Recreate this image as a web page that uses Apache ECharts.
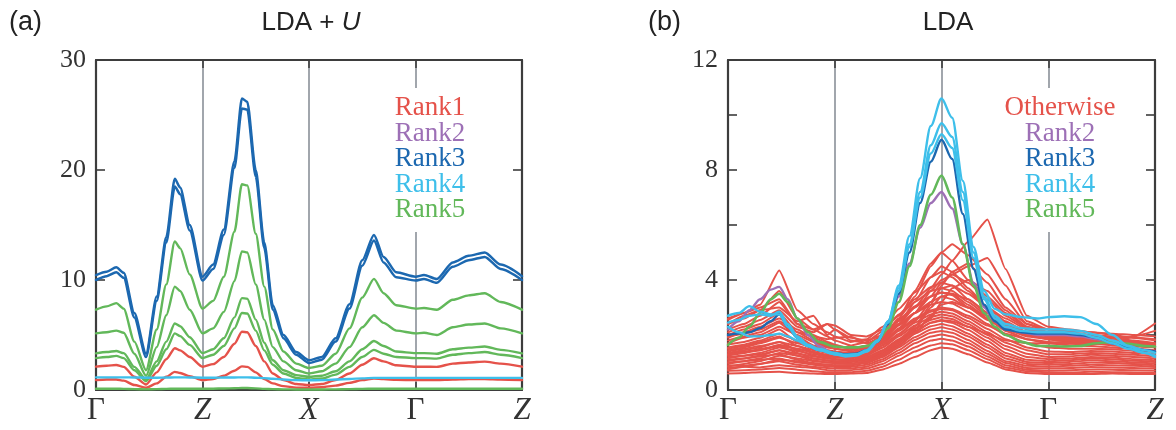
<!DOCTYPE html>
<html><head><meta charset="utf-8">
<script src="https://cdn.jsdelivr.net/npm/echarts@6/dist/echarts.min.js"></script>
<style>html,body{margin:0;padding:0;background:#fff}#c{width:1176px;height:430px}</style>
</head><body><div id="c"></div><script>
// k-path labels (Γ–Z–X–Γ–Z), one unit per segment
const kLabels = ['Γ', 'Z', 'X', 'Γ', 'Z'];
const kItalic = ['Z', 'X'];

// ---- panel (a): LDA + U ----
const xA = [0, 0.1, 0.19, 0.26, 0.36, 0.47, 0.57, 0.66, 0.74, 0.79, 0.88, 1.0, 1.1, 1.2, 1.3, 1.37, 1.42, 1.5, 1.58, 1.66, 1.76, 1.88, 2.0, 2.12, 2.25, 2.38, 2.5, 2.61, 2.7, 2.82, 3.0, 3.08, 3.2, 3.35, 3.5, 3.65, 3.8, 4.0];
const aRank3Upper = [10.45,10.75,11.15,10.65,7.0,3.3,8.5,13.9,19.2,18.4,15.0,10.3,11.4,14.6,20.8,26.5,26.2,20.0,13.4,7.7,5.0,3.45,2.7,3.0,4.7,7.8,11.8,14.1,12.1,10.7,10.3,10.45,10.1,11.6,12.2,12.5,11.4,10.35];
const aRank3Lower = [10.0,10.35,10.7,10.2,6.6,3.0,8.1,13.4,18.5,17.8,14.5,9.95,11.0,14.1,20.2,25.6,25.5,19.4,12.9,7.3,4.7,3.2,2.45,2.75,4.4,7.4,11.3,13.6,11.6,10.25,9.95,10.1,9.75,11.2,11.8,12.1,11.0,10.0];
const aRank5A = [7.3,7.6,7.9,7.4,4.4,1.8,5.5,9.6,13.5,12.9,10.5,7.4,8.1,10.3,14.4,18.7,18.6,14.2,9.4,5.5,3.5,2.4,2.0,2.2,3.3,5.6,8.4,10.1,8.8,7.7,7.4,7.45,7.3,8.2,8.6,8.8,8.0,7.3];
const aRank5B = [5.15,5.25,5.4,5.2,3.3,1.3,3.9,6.8,9.4,9.0,7.3,5.15,5.6,7.1,9.9,12.6,12.5,9.6,6.4,3.9,2.6,1.8,1.5,1.7,2.4,3.9,5.7,6.8,6.1,5.4,5.15,5.2,5.0,5.7,5.95,6.05,5.6,5.15];
const aRank5C = [3.33,3.45,3.55,3.35,2.1,0.95,2.6,4.4,6.05,5.8,4.8,3.35,3.7,4.7,6.6,8.35,8.3,6.4,4.3,2.7,1.8,1.35,1.2,1.3,1.7,2.6,3.7,4.45,4.0,3.5,3.35,3.35,3.3,3.7,3.85,3.95,3.65,3.33];
const aRank5D = [2.9,3.0,3.1,2.9,1.8,0.8,2.2,3.7,5.15,4.9,4.1,2.9,3.2,4.0,5.6,7.0,6.95,5.4,3.6,2.3,1.5,1.1,0.95,1.05,1.4,2.1,3.0,3.65,3.3,3.0,2.9,2.9,2.85,3.2,3.35,3.45,3.2,2.9];
const aRank5E = [0.12,0.12,0.12,0.1,0.08,0.06,0.08,0.1,0.12,0.12,0.12,0.12,0.12,0.14,0.16,0.18,0.18,0.15,0.1,0.08,0.06,0.05,0.05,0.05,0.06,0.08,0.1,0.12,0.12,0.12,0.12,0.12,0.12,0.12,0.12,0.12,0.12,0.12];
const aRank1A = [2.12,2.2,2.27,2.1,1.2,0.5,1.6,2.8,3.8,3.6,3.0,2.12,2.35,3.0,4.2,5.3,5.25,4.0,2.6,1.5,0.9,0.55,0.45,0.55,0.9,1.5,2.3,2.88,2.6,2.25,2.12,2.12,2.1,2.4,2.5,2.58,2.4,2.12];
const aRank1B = [0.9,0.95,0.95,0.85,0.45,0.2,0.6,1.2,1.65,1.55,1.25,0.9,1.0,1.3,1.75,2.15,2.1,1.6,1.0,0.6,0.35,0.22,0.2,0.25,0.4,0.65,0.9,1.05,1.0,0.92,0.9,0.9,0.9,0.95,1.0,1.0,0.95,0.9];
const aRank4 = [1.15,1.15,1.15,1.15,1.14,1.12,1.12,1.13,1.15,1.15,1.14,1.12,1.12,1.13,1.14,1.15,1.15,1.12,1.08,1.02,0.95,0.9,0.88,0.9,0.95,1.0,1.06,1.1,1.1,1.1,1.1,1.1,1.1,1.1,1.1,1.1,1.1,1.1];
const yTicksA = [0, 30, 10];   // min, max, step

// ---- panel (b): LDA ----
const xB = [0, 0.1, 0.2, 0.3, 0.4, 0.48, 0.56, 0.65, 0.75, 0.85, 1.0, 1.1, 1.2, 1.3, 1.4, 1.5, 1.6, 1.7, 1.8, 1.9, 2.0, 2.1, 2.2, 2.3, 2.4, 2.5, 2.6, 2.75, 2.9, 3.0, 3.15, 3.3, 3.45, 3.6, 3.75, 3.9, 4.0];
const bRank5 = [1.64,1.9,2.3,2.8,3.3,3.5,3.2,2.6,2.1,1.75,1.58,1.55,1.55,1.6,1.8,2.25,3.2,4.5,6.0,7.1,7.8,7.0,5.3,3.8,2.8,2.3,2.0,1.75,1.6,1.6,1.58,1.6,1.7,1.75,1.68,1.6,1.58];
const bRank2 = [2.2,2.5,2.9,3.3,3.65,3.75,3.3,2.6,2.0,1.6,1.3,1.25,1.3,1.45,1.8,2.4,3.4,4.6,5.9,6.8,7.2,6.6,5.3,3.9,3.0,2.5,2.25,2.1,2.0,2.0,2.0,1.95,1.85,1.7,1.55,1.45,1.4];
const bRank3 = [2.0,2.05,2.1,2.25,2.5,2.75,2.3,1.9,1.6,1.45,1.35,1.3,1.32,1.45,1.75,2.4,3.5,5.0,6.8,8.3,9.1,8.4,6.4,4.4,3.1,2.5,2.2,2.1,2.05,2.05,2.05,2.0,1.9,1.7,1.55,1.45,1.4];
const bRank4A = [2.7,2.8,3.05,2.85,2.75,2.75,2.3,1.9,1.6,1.45,1.3,1.22,1.25,1.4,1.75,2.5,3.8,5.6,7.7,9.6,10.6,9.9,7.6,5.2,3.6,2.95,2.75,2.65,2.6,2.65,2.68,2.65,2.4,2.0,1.6,1.35,1.25];
const bRank4B = [2.45,2.55,2.7,2.75,2.7,2.85,2.4,1.95,1.65,1.5,1.35,1.28,1.3,1.45,1.8,2.5,3.7,5.3,7.2,8.9,9.7,9.2,7.2,5.0,3.4,2.7,2.4,2.25,2.2,2.2,2.2,2.15,2.0,1.8,1.6,1.45,1.35];
const bRank4C = [2.3,2.1,1.95,1.95,2.0,2.05,1.95,1.8,1.6,1.45,1.3,1.25,1.28,1.42,1.78,2.45,3.6,5.2,7.0,8.6,9.3,8.8,6.9,4.8,3.3,2.6,2.3,2.15,2.1,2.1,2.1,2.05,1.9,1.7,1.5,1.35,1.2];
const xOther = [0, 0.15, 0.3, 0.48, 0.65, 0.8, 0.93, 1.0, 1.15, 1.3, 1.45, 1.6, 1.75, 1.9, 2.0, 2.1, 2.25, 2.43, 2.6, 2.8, 3.0, 3.2, 3.4, 3.6, 3.8, 4.0];
const otherBands = [
  [0.60,0.62,0.65,0.66,0.62,0.60,0.58,0.58,0.60,0.62,0.75,0.95,1.2,1.45,1.55,1.5,1.3,1.0,0.75,0.62,0.58,0.58,0.58,0.60,0.58,0.58],
  [0.70,0.72,0.75,0.80,0.74,0.68,0.65,0.64,0.65,0.70,0.85,1.10,1.40,1.62,1.70,1.66,1.45,1.12,0.82,0.68,0.64,0.64,0.66,0.65,0.64,0.62],
  [0.80,0.85,0.82,0.90,0.85,0.80,0.72,0.70,0.72,0.78,0.95,1.25,1.55,1.80,1.86,1.80,1.58,1.22,0.90,0.74,0.70,0.72,0.75,0.74,0.72,0.70],
  [0.90,0.88,0.95,1.05,0.92,0.85,0.80,0.78,0.78,0.85,1.05,1.35,1.70,1.95,2.02,1.95,1.70,1.32,0.98,0.80,0.78,0.80,0.84,0.82,0.80,0.78],
  [1.00,1.05,1.10,1.15,1.00,0.92,0.86,0.84,0.84,0.92,1.12,1.45,1.82,2.08,2.15,2.08,1.82,1.42,1.05,0.88,0.85,0.88,0.92,0.90,0.88,0.84],
  [1.10,1.15,1.22,1.30,1.10,0.98,0.92,0.90,0.90,0.98,1.20,1.55,1.92,2.20,2.28,2.20,1.95,1.55,1.15,0.95,0.92,0.95,1.00,0.98,0.95,0.90],
  [1.20,1.25,1.30,1.45,1.25,1.08,1.00,0.98,0.96,1.05,1.28,1.65,2.05,2.32,2.40,2.32,2.05,1.65,1.25,1.02,0.98,1.02,1.08,1.05,1.00,0.96],
  [1.30,1.40,1.45,1.60,1.35,1.15,1.06,1.04,1.02,1.10,1.35,1.75,2.15,2.45,2.52,2.45,2.18,1.78,1.35,1.10,1.05,1.08,1.15,1.12,1.06,1.02],
  [1.40,1.50,1.60,1.75,1.45,1.25,1.15,1.12,1.08,1.18,1.45,1.85,2.25,2.55,2.65,2.58,2.30,1.90,1.48,1.20,1.12,1.15,1.20,1.18,1.12,1.08],
  [1.50,1.60,1.75,1.95,1.60,1.38,1.25,1.20,1.15,1.25,1.55,1.95,2.35,2.65,2.75,2.68,2.40,2.00,1.60,1.32,1.20,1.22,1.28,1.25,1.20,1.15],
  [1.65,1.75,1.90,2.20,1.75,1.50,1.35,1.28,1.22,1.32,1.62,2.05,2.45,2.75,2.85,2.78,2.50,2.10,1.72,1.45,1.30,1.30,1.35,1.32,1.28,1.22],
  [1.80,1.95,2.10,2.45,1.95,1.62,1.45,1.38,1.30,1.40,1.70,2.15,2.55,2.85,2.95,2.90,2.62,2.22,1.85,1.55,1.40,1.38,1.42,1.40,1.35,1.30],
  [2.00,2.20,2.40,2.80,2.10,1.80,1.60,1.50,1.40,1.50,1.85,2.35,2.80,3.10,3.20,3.15,2.85,2.40,2.00,1.70,1.55,1.50,1.50,1.48,1.42,1.38],
  [2.20,2.40,2.70,3.20,2.40,2.00,1.75,1.65,1.50,1.62,2.00,2.55,3.05,3.40,3.55,3.50,3.10,2.60,2.15,1.85,1.70,1.62,1.60,1.55,1.50,1.45],
  [2.40,2.60,2.90,3.60,2.60,2.20,1.95,1.80,1.62,1.75,2.15,2.75,3.30,3.75,3.90,3.80,3.30,2.80,2.30,2.00,1.85,1.75,1.70,1.62,1.58,1.55],
  [2.55,2.80,3.10,4.35,2.90,2.40,2.10,1.95,1.75,1.85,2.30,2.95,3.55,4.10,4.30,4.10,3.60,3.00,2.45,2.10,1.95,1.85,1.80,1.72,1.65,1.60],
  [1.90,2.10,2.30,2.60,2.20,1.90,1.70,1.60,1.50,1.60,1.90,2.40,3.00,3.70,4.20,4.70,5.40,6.20,4.40,2.70,2.30,2.20,2.10,2.00,1.90,1.80],
  [1.70,1.90,2.00,2.30,2.00,1.75,1.55,1.50,1.45,1.55,1.95,2.60,3.40,4.50,5.00,5.30,4.90,4.20,3.30,2.40,2.10,2.00,1.95,1.85,1.75,1.70],
  [1.55,1.65,1.80,2.05,1.80,1.60,1.45,1.40,1.35,1.45,1.75,2.25,2.80,3.40,3.90,4.20,4.50,4.80,3.80,2.50,2.20,2.10,2.00,1.90,1.80,1.70],
  [1.45,1.55,1.70,1.90,1.70,1.55,1.40,1.35,1.30,1.45,1.90,2.60,3.60,4.60,5.00,4.70,4.00,3.40,2.80,2.30,2.05,1.95,1.90,1.85,1.75,1.65],
  [1.35,1.45,1.55,1.75,1.60,1.45,1.35,1.30,1.28,1.40,1.80,2.40,3.20,4.10,4.50,4.30,3.70,3.00,2.60,2.20,2.00,1.90,1.85,1.80,1.70,1.60],
  [1.25,1.35,1.45,1.65,1.50,1.38,1.28,1.25,1.22,1.32,1.65,2.20,2.80,3.60,4.00,4.20,3.90,3.30,2.70,2.25,2.05,1.98,1.90,1.85,1.75,1.65],
  [1.15,1.25,1.35,1.55,1.42,1.30,1.22,1.20,1.18,1.28,1.55,2.00,2.50,3.20,3.70,3.80,3.50,3.00,2.50,2.10,1.98,1.92,1.88,1.82,1.72,1.62],
  [1.05,1.15,1.25,1.45,1.32,1.22,1.15,1.12,1.10,1.20,1.45,1.80,2.20,2.60,3.20,3.70,4.00,3.60,2.90,2.30,2.10,2.05,2.00,1.95,1.90,1.85],
  [0.95,1.05,1.15,1.35,1.25,1.15,1.08,1.05,1.02,1.12,1.40,1.80,2.30,3.10,3.80,4.30,4.60,3.90,3.00,2.40,2.20,2.15,2.10,2.05,2.00,1.95],
  [0.85,0.95,1.05,1.25,1.15,1.05,1.00,0.98,0.96,1.05,1.30,1.70,2.20,3.00,3.40,3.50,3.30,2.80,2.40,2.10,1.95,1.85,1.80,1.78,1.70,1.62],
  [0.75,0.85,0.95,1.10,1.05,0.95,0.92,0.90,0.90,1.00,1.25,1.60,2.05,2.70,3.10,3.20,3.00,2.70,2.35,2.05,1.85,1.75,1.70,1.72,1.95,2.42],
  [1.30,1.35,1.50,1.60,1.50,1.35,1.20,1.12,1.05,1.15,1.40,1.75,2.10,2.45,2.55,2.50,2.30,2.05,1.80,1.70,1.70,1.68,1.65,1.75,1.95,2.15],
  [2.40,2.70,2.90,3.00,2.50,2.70,2.00,2.20,1.90,1.80,2.00,2.40,2.80,3.20,3.40,3.30,3.00,2.60,2.30,2.10,2.00,1.95,1.90,1.80,1.70,1.60],
  [2.60,2.80,3.00,3.30,2.40,2.20,2.40,2.35,2.00,1.95,2.20,2.70,3.20,3.60,3.70,3.60,3.20,2.70,2.30,2.00,1.90,1.85,1.80,1.75,1.70,1.60],
  [2.10,2.30,2.55,2.90,2.30,2.10,2.40,2.20,1.80,1.70,1.95,2.50,3.00,3.40,3.55,3.45,3.00,2.55,2.20,1.95,1.85,1.80,1.75,1.70,1.65,1.55],
  [1.95,2.05,2.20,2.50,2.10,1.95,1.85,1.90,1.94,1.70,1.80,2.20,2.60,2.90,3.00,2.95,2.70,2.35,2.05,1.85,1.75,1.72,1.70,1.68,1.62,1.55]
];
const yTicksB = [0, 12, 2];

const legendA = ['Rank1', 'Rank2', 'Rank3', 'Rank4', 'Rank5'];
const legendB = ['Otherwise', 'Rank2', 'Rank3', 'Rank4', 'Rank5'];

const C = { red: '#e5524a', purple: '#9d70b6', blue: '#1c68b0', cyan: '#3ebfea', green: '#62b85a' };
const legendColors = [C.red, C.purple, C.blue, C.cyan, C.green];
const SERIF = 'Liberation Serif';
const SANS = 'Liberation Sans';
const FRAME = '#3d3d3d';

function line(xs, ys, color, width, panel, z, smooth) {
  return {
    type: 'line', xAxisIndex: panel * 2, yAxisIndex: panel * 2,
    data: xs.map((x, i) => [x, ys[i]]),
    symbol: 'none', showSymbol: false, silent: true, animation: false, z: z,
    smooth: smooth, smoothMonotone: 'x',
    lineStyle: { color: color, width: width, join: 'round', cap: 'round' }
  };
}

function xAxes(grid) {
  const bottom = {
    type: 'value', gridIndex: grid, min: 0, max: 4, interval: 1, position: 'bottom',
    axisLine: { show: true, onZero: false, lineStyle: { color: FRAME, width: 2.2 } },
    axisTick: { show: true, inside: true, length: 8, lineStyle: { color: FRAME, width: 1.6 } },
    splitLine: { show: true, lineStyle: { color: '#8a9098', width: 1.6 } },
    axisLabel: {
      margin: 5,
      formatter: v => { const s = kLabels[Math.round(v)]; return kItalic.includes(s) ? '{i|' + s + '}' : '{u|' + s + '}'; },
      rich: {
        u: { fontFamily: SERIF, fontSize: 31, color: '#333' },
        i: { fontFamily: SERIF, fontSize: 31, fontStyle: 'italic', color: '#333' }
      }
    }
  };
  const top = {
    type: 'value', gridIndex: grid, min: 0, max: 4, interval: 1, position: 'top',
    axisLine: { show: true, onZero: false, lineStyle: { color: FRAME, width: 2.2 } },
    axisTick: { show: true, inside: true, length: 8, lineStyle: { color: FRAME, width: 1.6 } },
    splitLine: { show: false }, axisLabel: { show: false }
  };
  return [bottom, top];
}

function yAxes(grid, ticks, labelEvery) {
  const common = {
    type: 'value', gridIndex: grid, min: ticks[0], max: ticks[1], interval: ticks[2],
    axisLine: { show: true, onZero: false, lineStyle: { color: FRAME, width: 2.2 } },
    axisTick: { show: true, inside: true, length: 9, lineStyle: { color: FRAME, width: 1.6 } },
    splitLine: { show: false }
  };
  return [
    Object.assign({}, common, {
      position: 'left',
      axisLabel: {
        margin: 10, fontFamily: SERIF, fontSize: 26, color: '#333',
        formatter: v => (v % labelEvery === 0 ? String(v) : '')
      }
    }),
    Object.assign({}, common, { position: 'right', axisLabel: { show: false } })
  ];
}

const series = [];
// panel (a)
series.push(line(xA, aRank1B, C.red, 2.4, 0, 2, 0.25));
series.push(line(xA, aRank1A, C.red, 2.4, 0, 2, 0.25));
[aRank5E, aRank5D, aRank5C, aRank5B, aRank5A].forEach(d => series.push(line(xA, d, C.green, 2.4, 0, 3, 0.25)));
series.push(line(xA, aRank4, C.cyan, 2.4, 0, 4, 0.25));
series.push(line(xA, aRank3Lower, C.blue, 2.5, 0, 5, 0.25));
series.push(line(xA, aRank3Upper, C.blue, 2.5, 0, 5, 0.25));
// panel (b)
otherBands.forEach(d => series.push(line(xOther, d, C.red, 2, 1, 2, 0.15)));
series.push(line(xB, bRank2, C.purple, 2.4, 1, 3, 0.3));
series.push(line(xB, bRank3, C.blue, 2.4, 1, 3, 0.3));
series.push(line(xB, bRank5, C.green, 2.6, 1, 4, 0.3));
[bRank4C, bRank4B, bRank4A].forEach(d => series.push(line(xB, d, C.cyan, 2.4, 1, 5, 0.3)));

// legend names: centred, coloured serif titles stacked inside each panel
function legendTitles(names, cx, firstCenter) {
  return names.map((n, i) => ({
    text: n, left: cx, top: firstCenter + i * 25.6 - 13, textAlign: 'center', padding: 0,
    textStyle: { fontFamily: SERIF, fontSize: 27, fontWeight: 'normal', color: legendColors[i], lineHeight: 26 }
  }));
}
// white patch that interrupts the Γ divider behind each legend
function legendPatch(x, w) {
  return { type: 'rect', z: 1, shape: { x: x, y: 88, width: w, height: 144 }, style: { fill: '#fff' } };
}

const chart = echarts.init(document.getElementById('c'), null, { renderer: 'canvas' });
chart.setOption({
  backgroundColor: '#fff',
  animation: false,
  title: [
    { text: '(a)', left: 4, top: 4, textStyle: { fontFamily: SANS, fontSize: 27, fontWeight: 'normal', color: '#222' } },
    { text: 'LDA + {i|U}', left: 306, top: 5, textAlign: 'center',
      textStyle: { fontFamily: SANS, fontSize: 26, fontWeight: 'normal', color: '#222',
        rich: { i: { fontFamily: SANS, fontSize: 26, fontStyle: 'italic', color: '#222' } } } },
    { text: '(b)', left: 643, top: 4, textStyle: { fontFamily: SANS, fontSize: 27, fontWeight: 'normal', color: '#222' } },
    { text: 'LDA', left: 943, top: 5, textAlign: 'center', textStyle: { fontFamily: SANS, fontSize: 26, fontWeight: 'normal', color: '#222' } },
    ...legendTitles(legendA, 430, 108),
    ...legendTitles(legendB, 1060, 108)
  ],
  grid: [
    { left: 96, top: 60, width: 426, height: 330 },
    { left: 728, top: 60, width: 427, height: 330 }
  ],
  xAxis: [...xAxes(0), ...xAxes(1)],
  yAxis: [...yAxes(0, yTicksA, 10), ...yAxes(1, yTicksB, 4)],
  series: series,
  graphic: [legendPatch(386, 90), legendPatch(994, 132)]
});
</script></body></html>
